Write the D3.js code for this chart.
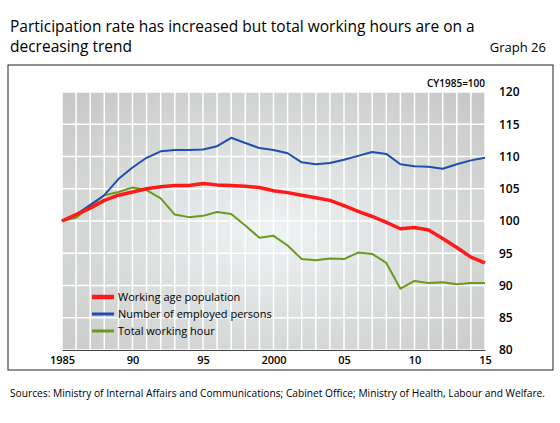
<!DOCTYPE html>
<html><head><meta charset="utf-8">
<script src="https://cdn.jsdelivr.net/npm/d3@7"></script>
<style>body{margin:0;background:#fff;font-family:"Open Sans",sans-serif}</style>
</head><body><svg id="chart" width="560" height="423"></svg>
<script>
const years = d3.range(1985, 2016);
const workingAge = [100,101,102,103.2,104,104.5,105,105.3,105.5,105.5,105.8,105.6,105.5,105.4,105.2,104.7,104.4,104,103.6,103.2,102.4,101.5,100.7,99.8,98.8,99,98.6,97.3,95.9,94.4,93.5];
const employed = [100,101,102.5,104,106.5,108.3,109.8,110.8,111,111,111.1,111.6,112.9,112.1,111.3,111,110.5,109.1,108.8,109,109.5,110.1,110.7,110.4,108.8,108.5,108.4,108.1,108.8,109.4,109.8];
const hours = [100,100.5,102.3,104,104.5,105.2,104.8,103.5,101,100.6,100.8,101.4,101.1,99.3,97.4,97.7,96.2,94.1,93.9,94.2,94.1,95.1,94.9,93.5,89.5,90.7,90.4,90.5,90.2,90.4,90.4];
const xTicks = [1985,1990,1995,2000,2005,2010,2015];
const xTickLabels = ["1985","90","95","2000","05","10","15"];
const yTicks = [80,85,90,95,100,105,110,115,120];
const series = [
  {name:"Working age population", values:workingAge, color:"#ff1a1a", width:3.5},
  {name:"Number of employed persons", values:employed, color:"#1f4fa8", width:2},
  {name:"Total working hour", values:hours, color:"#6a9a1f", width:2}
];

const svg = d3.select("#chart");
const x = d3.scaleLinear().domain([1985, 2015]).range([62, 485]);
const y = d3.scaleLinear().domain([80, 120]).range([350, 92]);

svg.append("text").attr("x",10).attr("y",32).attr("font-size",15.5).text("Participation rate has increased but total working hours are on a");
svg.append("text").attr("x",10).attr("y",52).attr("font-size",15.5).text("decreasing trend");
svg.append("text").attr("x",546).attr("y",52).attr("text-anchor","end").attr("font-size",13).text("Graph 26");
svg.append("rect").attr("x",8).attr("y",65).attr("width",545).attr("height",305).attr("fill","none").attr("stroke","#222").attr("stroke-width",1);

const grad = svg.append("defs").append("radialGradient").attr("id","bg").attr("cx","50%").attr("cy","55%").attr("r","70%");
grad.append("stop").attr("offset","0%").attr("stop-color","#eef3f3");
grad.append("stop").attr("offset","100%").attr("stop-color","#c8c8c8");
svg.append("rect").attr("x",x(1985)).attr("y",y(120)).attr("width",x(2015)-x(1985)).attr("height",y(80)-y(120)).attr("fill","url(#bg)");

const grid = svg.append("g").attr("stroke","#fff").attr("stroke-width",1.5);
grid.selectAll(".v").data(years).join("line").attr("x1",d=>x(d)).attr("x2",d=>x(d)).attr("y1",y(120)).attr("y2",y(80));
grid.selectAll(".h").data(yTicks).join("line").attr("x1",x(1985)).attr("x2",x(2015)).attr("y1",d=>y(d)).attr("y2",d=>y(d));

const yAxis = svg.append("g").attr("transform",`translate(${x(2015)},0)`)
  .call(d3.axisRight(y).tickValues(yTicks).tickSize(0).tickPadding(14));
yAxis.select(".domain").remove();
yAxis.selectAll("text").attr("font-size",12).attr("font-family","Open Sans").attr("font-weight",600);

const xAxis = svg.append("g").attr("transform",`translate(0,${y(80)})`)
  .call(d3.axisBottom(x).tickValues(xTicks).tickFormat((d,i)=>xTickLabels[i]).tickSize(0).tickPadding(6));
xAxis.select(".domain").attr("stroke","#444");
xAxis.selectAll("text").attr("font-size",11).attr("font-family","Open Sans").attr("font-weight",600);

svg.append("text").attr("x",x(2015)).attr("y",87).attr("text-anchor","end").attr("font-size",10).attr("font-weight",600).text("CY1985=100");

const line = d3.line().x((d,i)=>x(years[i])).y(d=>y(d));
[series[2], series[1], series[0]].forEach(s=>{
  svg.append("path").datum(s.values).attr("fill","none").attr("stroke",s.color)
    .attr("stroke-width",s.width).attr("stroke-linejoin","round").attr("d",line);
});

const leg = svg.append("g").attr("transform","translate(92,297)");
series.forEach((s,i)=>{
  const g = leg.append("g").attr("transform",`translate(0,${i*17})`);
  g.append("line").attr("x1",0).attr("x2",22).attr("stroke",s.color).attr("stroke-width",s.width+1);
  g.append("text").attr("x",26).attr("y",4).attr("font-size",11).text(s.name);
});

svg.append("text").attr("x",10).attr("y",397).attr("font-size",10).attr("textLength",535).attr("lengthAdjust","spacingAndGlyphs")
  .text("Sources: Ministry of Internal Affairs and Communications; Cabinet Office; Ministry of Health, Labour and Welfare.");
</script></body></html>
